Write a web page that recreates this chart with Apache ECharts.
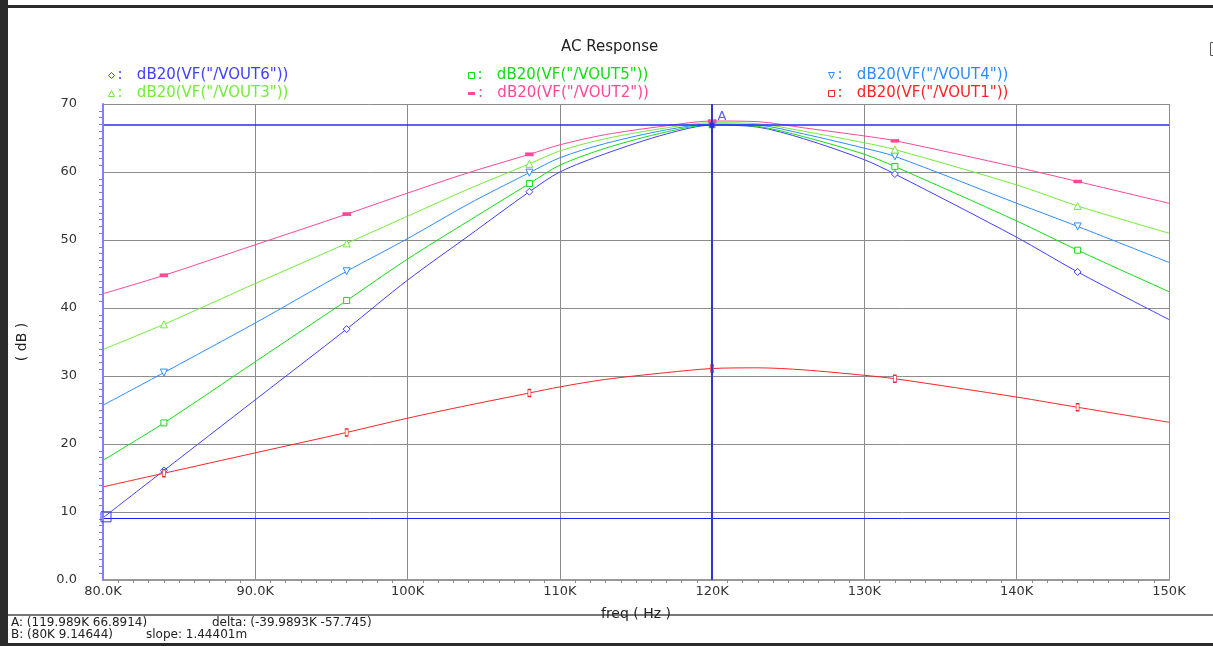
<!DOCTYPE html>
<html>
<head>
<meta charset="utf-8">
<script src="https://cdn.jsdelivr.net/npm/echarts@6/dist/echarts.min.js"></script>
<style>
  html, body { margin: 0; padding: 0; background: #fff; }
  #chart { width: 1213px; height: 646px; }
</style>
</head>
<body>
<div id="chart"></div>
<script>
// frequencies in kHz
const freqK = [80, 84, 90, 96, 100, 104, 108, 110, 113, 117, 120, 123, 126, 130, 132, 140, 144, 150];
const markerFreqs = [84, 96, 108, 120, 132, 144];

const vout6 = [9.15, 16.1, 26.5, 36.9, 44.1, 50.6, 57.1, 60.0, 62.7, 65.6, 66.89, 66.6, 64.9, 61.8, 59.7, 50.4, 45.3, 38.3];
const vout5 = [17.6, 23.1, 32.1, 41.1, 47.2, 52.8, 58.3, 61.0, 63.5, 65.9, 66.95, 66.7, 65.2, 62.6, 60.8, 52.8, 48.5, 42.4];
const vout4 = [25.7, 30.5, 37.8, 45.4, 50.2, 55.3, 59.9, 62.1, 64.2, 66.2, 67.05, 66.9, 65.6, 63.5, 62.3, 55.4, 52.0, 46.7];
const vout3 = [33.9, 37.6, 43.6, 49.5, 53.5, 57.5, 61.2, 63.1, 64.9, 66.5, 67.25, 67.1, 66.0, 64.3, 63.3, 58.1, 55.0, 51.0];
const vout2 = [42.1, 44.8, 49.3, 53.8, 56.9, 59.9, 62.6, 64.0, 65.5, 66.8, 67.5, 67.4, 66.5, 65.3, 64.6, 60.7, 58.6, 55.4];
const vout1 = [13.7, 15.7, 18.7, 21.7, 23.8, 25.7, 27.5, 28.4, 29.5, 30.5, 31.1, 31.2, 30.9, 30.1, 29.6, 26.9, 25.4, 23.2];

const xTicks = [80, 90, 100, 110, 120, 130, 140, 150];
const yTicks = [0, 10, 20, 30, 40, 50, 60, 70];

const cursorA = [119.989, 66.8914];
const cursorB = [80, 9.14644];

const font = "DejaVu Sans";
const downTri = "path://M0,0 L10,0 L5,10 Z";

// name, values, color, marker, rotate, hollow, size, legend position
const traces = [
  { name: 'dB20(VF("/VOUT6"))', data: vout6, color: "#4040ff", symbol: "diamond", icon: "diamond", rot: 0, hollow: true, size: 7, left: 108, top: 68 },
  { name: 'dB20(VF("/VOUT5"))', data: vout5, color: "#14dc14", symbol: "rect", icon: "rect", rot: 0, hollow: true, size: 6, left: 468, top: 68 },
  { name: 'dB20(VF("/VOUT4"))', data: vout4, color: "#2d8cff", symbol: "triangle", icon: downTri, rot: 180, hollow: true, size: 7, left: 828, top: 68 },
  { name: 'dB20(VF("/VOUT3"))', data: vout3, color: "#74ec3a", symbol: "triangle", icon: "triangle", rot: 0, hollow: true, size: 7, left: 108, top: 86 },
  { name: 'dB20(VF("/VOUT2"))', data: vout2, color: "#ff4898", symbol: "rect", icon: "rect", rot: 0, hollow: false, size: [7, 3], left: 468, top: 86 },
  { name: 'dB20(VF("/VOUT1"))', data: vout1, color: "#ff2424", symbol: "rect", icon: "rect", rot: 0, hollow: true, size: [3, 7], left: 828, top: 86 },
];

const makeData = (vals, sym) =>
  freqK.map((f, i) => ({
    value: [f, vals[i]],
    symbol: markerFreqs.includes(f) ? sym : "none",
  }));

const series = traces.map((t) => ({
  name: t.name,
  type: "line",
  smooth: 0.3,
  data: makeData(t.data, t.symbol),
  symbol: t.symbol,
  symbolSize: t.size,
  symbolRotate: t.rot,
  showAllSymbol: true,
  color: t.color,
  lineStyle: { color: t.color, width: 1 },
  itemStyle: { color: t.hollow ? "#fff" : t.color, borderColor: t.color, borderWidth: 1 },
  emphasis: { disabled: true },
  animation: false,
  z: 3,
}));

// cursors A and B, kept on their own empty series
series.push({
  name: "cursors",
  type: "line",
  data: [],
  silent: true,
  animation: false,
  z: 4,
  markLine: {
    silent: true,
    symbol: ["none", "none"],
    label: { show: false },
    animation: false,
    lineStyle: { color: "#2020ff", width: 1, type: "solid", opacity: 1 },
    emphasis: { disabled: true },
    data: [
      [{ coord: [80, cursorA[1]], lineStyle: { color: "#2a2aff", width: 1.6 } }, { coord: [150, cursorA[1]] }],
      [{ coord: [80, cursorB[1]] }, { coord: [150, cursorB[1]] }],
      [{ coord: [cursorA[0], 0], lineStyle: { color: "#3434d0", width: 2 } }, { coord: [cursorA[0], 70] }],
      [{ coord: [cursorB[0], 0], lineStyle: { color: "#8080ff", width: 2 } }, { coord: [cursorB[0], 70] }],
    ],
  },
  markPoint: {
    silent: true,
    animation: false,
    data: [
      {
        coord: cursorA, symbol: "rect", symbolSize: 5,
        itemStyle: { color: "#2a2ae0" },
        label: { show: true, formatter: "A", position: "right", offset: [-2, -9], color: "#5a5aff", fontFamily: font, fontSize: 13 },
      },
      {
        coord: cursorB, symbol: "rect", symbolSize: 10, symbolOffset: [3, -1],
        itemStyle: { color: "rgba(0,0,0,0)", borderColor: "#3a3aff", borderWidth: 1 },
        label: { show: false },
      },
    ],
  },
});

const legends = traces.map((t) => ({
  data: [t.name],
  left: t.left,
  top: t.top,
  padding: 0,
  icon: t.icon,
  itemWidth: t.icon === "rect" && !t.hollow ? 7 : 6,
  itemHeight: t.icon === "rect" && !t.hollow ? 3 : 6,
  symbolRotate: 0,
  selectedMode: false,
  itemStyle: t.hollow
    ? { color: "#fff", borderColor: t.color, borderWidth: 1 }
    : { color: t.color, borderWidth: 0 },
  formatter: (n) => ":   " + n,
  textStyle: { color: t.color, fontFamily: font, fontSize: 15, padding: [0, 0, 0, -2] },
}));

const option = {
  backgroundColor: "#fff",
  animation: false,
  title: {
    text: "AC Response",
    left: 561,
    top: 40,
    padding: 0,
    textStyle: { color: "#222", fontFamily: font, fontSize: 15, fontWeight: "normal" },
  },
  legend: legends,
  grid: { left: 103, right: 44, top: 104, bottom: 66 },
  xAxis: {
    type: "value",
    min: 80,
    max: 150,
    interval: 10,
    name: "freq ( Hz )",
    nameLocation: "middle",
    nameGap: 27,
    nameTextStyle: { color: "#222", fontFamily: font, fontSize: 14 },
    axisLine: { show: true, lineStyle: { color: "#999", width: 2 } },
    axisTick: { show: false },
    minorTick: { show: true, splitNumber: 10, length: 3, lineStyle: { color: "#888" } },
    axisLabel: {
      color: "#333",
      fontFamily: font,
      fontSize: 13,
      margin: 5,
      formatter: (v) => (xTicks.includes(v) ? (v < 100 ? v.toFixed(1) + "K" : v + "K") : ""),
    },
    splitLine: { show: true, lineStyle: { color: "#8c8c8c", width: 1 } },
  },
  yAxis: {
    type: "value",
    min: 0,
    max: 70,
    interval: 10,
    name: "( dB )",
    nameLocation: "middle",
    nameRotate: 90,
    nameGap: 74,
    nameTextStyle: { color: "#222", fontFamily: font, fontSize: 14 },
    axisLine: { show: true, lineStyle: { color: "#8080ff", width: 2 } },
    axisTick: { show: false },
    minorTick: { show: true, splitNumber: 10, length: 4, lineStyle: { color: "#888" } },
    axisLabel: {
      color: "#333",
      fontFamily: font,
      fontSize: 13,
      margin: 26,
      padding: [0, 0, 8, 0],
      formatter: (v) => (yTicks.includes(v) ? (v === 0 ? "0.0" : String(v)) : ""),
    },
    splitLine: { show: true, lineStyle: { color: "#8c8c8c", width: 1 } },
  },
  graphic: [
    { type: "rect", left: 0, top: 0, shape: { width: 8, height: 646 }, style: { fill: "#2b2b2b" }, silent: true },
    { type: "rect", left: 8, top: 5, shape: { width: 1205, height: 3 }, style: { fill: "#2b2b2b" }, silent: true },
    { type: "rect", left: 8, top: 614, shape: { width: 1205, height: 2 }, style: { fill: "#777" }, silent: true },
    { type: "rect", left: 8, top: 643, shape: { width: 1205, height: 3 }, style: { fill: "#2b2b2b" }, silent: true },
    { type: "rect", left: 1208, top: 40, shape: { width: 7, height: 13 }, style: { fill: "none", stroke: "#555", lineWidth: 1 }, silent: true },
    { type: "text", left: 11, top: 617, style: { text: "A: (119.989K 66.8914)", fill: "#222", font: "12px " + font } },
    { type: "text", left: 212, top: 617, style: { text: "delta: (-39.9893K -57.745)", fill: "#222", font: "12px " + font } },
    { type: "text", left: 11, top: 629, style: { text: "B: (80K 9.14644)", fill: "#222", font: "12px " + font } },
    { type: "text", left: 146, top: 629, style: { text: "slope: 1.44401m", fill: "#222", font: "12px " + font } },
  ],
  series: series,
};

const myChart = echarts.init(document.getElementById("chart"));
myChart.setOption(option);
</script>
</body>
</html>
